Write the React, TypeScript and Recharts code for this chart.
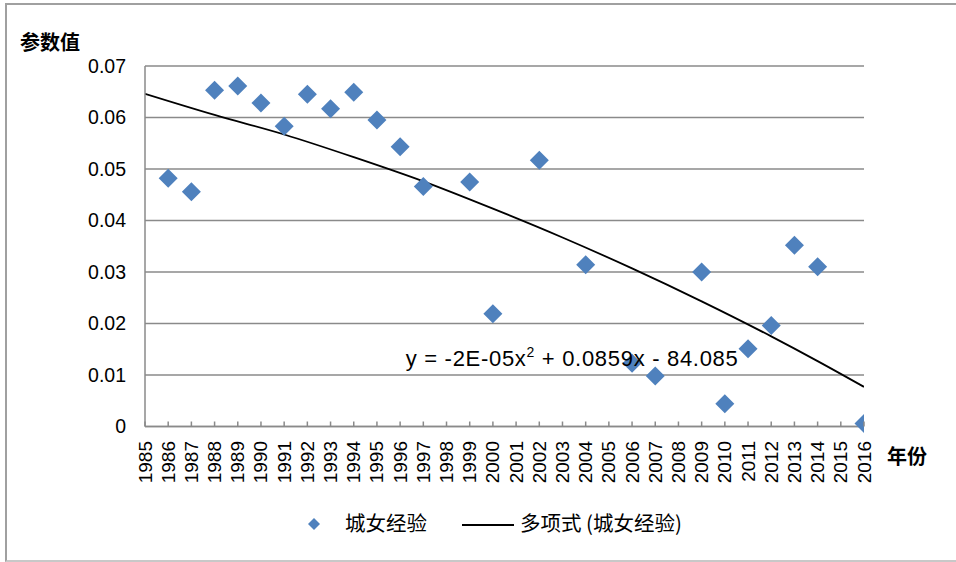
import React from 'react';
import {
  ComposedChart,
  Scatter,
  Line,
  XAxis,
  YAxis,
  CartesianGrid,
  ReferenceDot,
  Legend,
} from 'recharts';

// ---- data ----
const pointYears = [1986, 1987, 1988, 1989, 1990, 1991, 1992, 1993, 1994, 1995, 1996, 1997, 1999, 2000, 2002, 2004, 2006, 2007, 2009, 2010, 2011, 2012, 2013, 2014, 2016];
const pointValues = [0.0482, 0.0456, 0.0653, 0.0661, 0.0628, 0.0583, 0.0645, 0.0617, 0.0649, 0.0595, 0.0543, 0.0466, 0.0475, 0.0219, 0.0517, 0.0314, 0.0123, 0.0098, 0.0300, 0.0044, 0.0151, 0.0196, 0.0352, 0.0310, 0.0006];

const trendYears = [1985, 1988, 1991, 1994, 1997, 2000, 2003, 2006, 2009, 2012, 2014, 2016];
const trendValues = [0.0646, 0.0605, 0.0567, 0.0523, 0.0476, 0.0423, 0.0367, 0.0307, 0.0243, 0.0175, 0.0127, 0.0077];

const xTicks = [1985, 1986, 1987, 1988, 1989, 1990, 1991, 1992, 1993, 1994, 1995, 1996, 1997, 1998, 1999, 2000, 2001, 2002, 2003, 2004, 2005, 2006, 2007, 2008, 2009, 2010, 2011, 2012, 2013, 2014, 2015, 2016];
const yTicks = [0, 0.01, 0.02, 0.03, 0.04, 0.05, 0.06, 0.07];

const seriesName = '城女经验';
const trendName = '多项式 (城女经验)';
const yTitle = '参数值';
const xTitle = '年份';
const eqPosition = { x: 2003.4, y: 0.0118 };

const scatterData = pointYears.map((x, i) => ({ x, y: pointValues[i] }));
const trendData = trendYears.map((x, i) => ({ x, t: trendValues[i] }));

const BLUE = '#4F81BD';
const GRID = '#8a8a8a';
const LATIN = '"Liberation Sans", Arial, sans-serif';
const CJK = '"Noto Sans CJK SC", "Noto Sans", sans-serif';

const Diamond = (props: any) => {
  const { cx, cy } = props;
  if (cx == null || cy == null) return null;
  const h = 9.5;
  return (
    <polygon
      points={`${cx},${cy - h} ${cx + h},${cy} ${cx},${cy + h} ${cx - h},${cy}`}
      fill={BLUE}
    />
  );
};

const XTick = (props: any) => {
  const { x, y, payload } = props;
  const ty = y + 14.5;
  return (
    <g>
      <line x1={x} y1={y} x2={x} y2={y - 5} stroke={GRID} strokeWidth={1.5} />
      <text
        x={x}
        y={ty}
        transform={`rotate(-90, ${x}, ${ty})`}
        textAnchor="end"
        dominantBaseline="central"
        fontSize={19}
        fontFamily={LATIN}
        fill="#000"
      >
        {payload.value}
      </text>
    </g>
  );
};

const EquationLabel = (props: any) => {
  const vb = props.viewBox || {};
  const cx = (vb.x ?? 0) + (vb.width ?? 0) / 2;
  const cy = (vb.y ?? 0) + (vb.height ?? 0) / 2;
  return (
    <text
      x={cx}
      y={cy}
      textAnchor="middle"
      fontSize={22}
      fontFamily={LATIN}
      fill="#000"
      textLength={332}
      lengthAdjust="spacing"
    >
      <tspan>y = -2E-05x</tspan>
      <tspan fontSize={14} dy={-9}>2</tspan>
      <tspan dy={9}> + 0.0859x - 84.085</tspan>
    </text>
  );
};

const LegendContent = (props: any) => {
  const payload = props.payload || [];
  const scatterItem = payload.find((p: any) => p.type !== 'line') || { value: seriesName };
  const lineItem = payload.find((p: any) => p.type === 'line') || { value: trendName };
  return (
    <svg width={956} height={40} style={{ display: 'block', overflow: 'visible' }}>
      <polygon points="314,13 320,19 314,25 308,19" fill={BLUE} />
      <text x={345} y={26} fontSize={20.5} fontFamily={CJK} fill="#000">
        {scatterItem.value}
      </text>
      <line x1={462} y1={20} x2={514} y2={20} stroke="#000" strokeWidth={2} />
      <text x={520} y={26} fontSize={20.5} fontFamily={CJK} fill="#000">
        {lineItem.value}
      </text>
    </svg>
  );
};

export default function App() {
  return (
    <div
      style={{
        position: 'absolute',
        left: 0,
        top: 0,
        width: 956,
        height: 562,
        background: '#fff',
        overflow: 'hidden',
      }}
    >
      <div
        style={{
          position: 'absolute',
          left: 5,
          top: 3,
          width: 960,
          height: 555,
          borderLeft: '2px solid #a0a0a0',
          borderTop: '2px solid #a0a0a0',
          borderBottom: '2px solid #c8c8c8',
        }}
      />
      <div style={{ position: 'absolute', left: 0, top: 0 }}>
        <ComposedChart
          width={956}
          height={562}
          margin={{ top: 66, right: 92, bottom: 75.5, left: 85 }}
        >
          <CartesianGrid vertical={false} stroke={GRID} strokeWidth={1.5} />
          <XAxis
            dataKey="x"
            type="number"
            domain={[1985, 2016]}
            ticks={xTicks}
            interval={0}
            allowDataOverflow
            height={60}
            tickSize={0}
            tickMargin={0}
            tickLine={false}
            axisLine={{ stroke: GRID, strokeWidth: 1.5 }}
            tick={<XTick />}
            label={{
              content: () => (
                <text x={887} y={464} fontSize={20} fontWeight="bold" fontFamily={CJK} fill="#000">
                  {xTitle}
                </text>
              ),
            }}
          />
          <YAxis
            type="number"
            domain={[0, 0.07]}
            ticks={yTicks}
            interval={0}
            width={60}
            tickSize={0}
            tickMargin={19}
            tickLine={false}
            axisLine={{ stroke: GRID, strokeWidth: 1.5 }}
            tick={{ fontSize: 19.5, fontFamily: LATIN, fill: '#000' }}
            tickFormatter={(v: number) => (v === 0 ? '0' : v.toFixed(2))}
            label={{
              content: () => (
                <text x={20} y={50} fontSize={20} fontWeight="bold" fontFamily={CJK} fill="#000">
                  {yTitle}
                </text>
              ),
            }}
          />
          <Scatter
            name={seriesName}
            data={scatterData}
            dataKey="y"
            fill={BLUE}
            shape={<Diamond />}
            isAnimationActive={false}
          />
          <Line
            name={trendName}
            data={trendData}
            dataKey="t"
            type="monotone"
            stroke="#000"
            strokeWidth={1.8}
            dot={false}
            activeDot={false}
            legendType="line"
            isAnimationActive={false}
          />
          <ReferenceDot
            x={eqPosition.x}
            y={eqPosition.y}
            r={0}
            fill="none"
            stroke="none"
            label={<EquationLabel />}
          />
          <Legend
            layout="horizontal"
            verticalAlign="middle"
            align="center"
            content={<LegendContent />}
            wrapperStyle={{ position: 'absolute', left: 0, top: 505, width: 956, height: 40 }}
          />
        </ComposedChart>
      </div>
    </div>
  );
}
